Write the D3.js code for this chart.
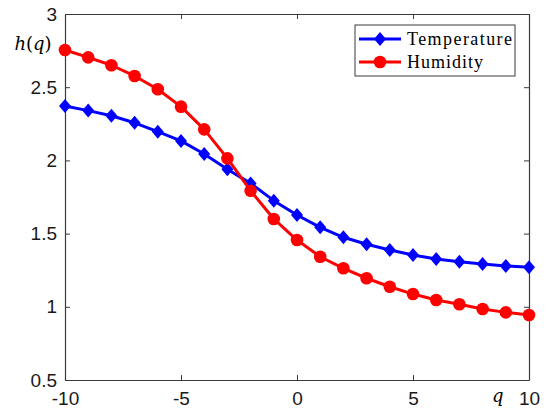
<!DOCTYPE html>
<html>
<head>
<meta charset="utf-8">
<script src="https://cdn.jsdelivr.net/npm/d3@7"></script>
<style>
  body { margin: 0; background: #fff; }
  .tick text { font-family: "Liberation Sans", Arial, sans-serif; font-size: 19px; fill: #1a1a1a; }
  .leg { font-family: "Liberation Serif", "DejaVu Serif", serif; font-size: 18px; fill: #000; }
  .lab { font-family: "DejaVu Serif", serif; font-size: 18px; fill: #000; }
</style>
</head>
<body>
<div id="chart"></div>
<script>
// q values and the two series
var q = [-10,-9,-8,-7,-6,-5,-4,-3,-2,-1,0,1,2,3,4,5,6,7,8,9,10];
var temperature = [2.372,2.340,2.305,2.257,2.196,2.133,2.044,1.940,1.843,1.725,1.627,1.543,1.475,1.427,1.388,1.354,1.326,1.308,1.292,1.279,1.270];
var humidity = [2.754,2.704,2.650,2.577,2.486,2.367,2.212,2.014,1.793,1.600,1.456,1.342,1.263,1.195,1.137,1.087,1.046,1.017,0.985,0.962,0.944];
var xTicks = [-10,-5,0,5,10];
var yTicks = [0.5,1,1.5,2,2.5,3];
var seriesNames = ["Temperature","Humidity"];

var W = 553, H = 415;
var margin = { top: 14, right: 24, bottom: 35, left: 65 };
var width = W - margin.left - margin.right;
var height = H - margin.top - margin.bottom;

var svg = d3.select("#chart").append("svg")
  .attr("width", W)
  .attr("height", H)
  .append("g")
  .attr("transform", `translate(${margin.left},${margin.top})`);

var x = d3.scaleLinear().domain([-10, 10]).range([0, width]);
var y = d3.scaleLinear().domain([0.5, 3]).range([height, 0]);

var axisCol = "#3a3a3a";

// axes, ticks pointing inward on all four sides
var xb = svg.append("g").attr("transform", `translate(0,${height})`)
  .call(d3.axisBottom(x).tickValues(xTicks).tickSizeInner(-5).tickSizeOuter(0).tickPadding(12).tickFormat(d => String(d)));
var xt = svg.append("g")
  .call(d3.axisTop(x).tickValues(xTicks).tickSizeInner(-5).tickSizeOuter(0).tickFormat(""));
var yl = svg.append("g")
  .call(d3.axisLeft(y).tickValues(yTicks).tickSizeInner(-5).tickSizeOuter(0).tickPadding(8).tickFormat(d => String(d)));
var yr = svg.append("g").attr("transform", `translate(${width},0)`)
  .call(d3.axisRight(y).tickValues(yTicks).tickSizeInner(-5).tickSizeOuter(0).tickFormat(""));

[xb, xt, yl, yr].forEach(g => {
  g.select(".domain").attr("stroke", axisCol).attr("stroke-width", 1.2);
  g.selectAll(".tick line").attr("stroke", axisCol).attr("stroke-width", 1);
});
xb.selectAll(".tick text").attr("dy", "0.68em");
svg.selectAll(".tick text").style("font-family", '"Liberation Sans", Arial, sans-serif').style("font-size", "19px");

// axis labels: italic letters, upright brackets
var hl = svg.append("text")
  .attr("x", -32).attr("y", 36)
  .attr("text-anchor", "middle")
  .attr("class", "lab");
hl.append("tspan").style("font-style", "italic").text("h");
hl.append("tspan").text("(");
hl.append("tspan").style("font-style", "italic").text("q");
hl.append("tspan").text(")");

svg.append("text")
  .attr("x", x(8.65)).attr("y", height + 22)
  .attr("text-anchor", "middle")
  .attr("class", "lab")
  .style("font-style", "italic")
  .text("q");

var diamond = "M0,-7L6,0L0,7L-6,0Z";

var line = d3.line().x((d, i) => x(q[i])).y(d => y(d));

function drawSeries(vals, col, marker) {
  svg.append("path")
    .datum(vals)
    .attr("fill", "none")
    .attr("stroke", col)
    .attr("stroke-width", 3)
    .attr("stroke-linejoin", "round")
    .attr("d", line);
  if (marker === "diamond") {
    svg.selectAll(null).data(vals).enter().append("path")
      .attr("d", diamond)
      .attr("transform", (d, i) => `translate(${x(q[i])},${y(d)})`)
      .attr("fill", col);
  } else {
    svg.selectAll(null).data(vals).enter().append("circle")
      .attr("cx", (d, i) => x(q[i]))
      .attr("cy", d => y(d))
      .attr("r", 6.3)
      .attr("fill", col);
  }
}
drawSeries(temperature, "#0000ff", "diamond");
drawSeries(humidity, "#ff0000", "circle");

// legend
var lg = svg.append("g").attr("transform", `translate(${355 - margin.left},${25 - margin.top})`);
lg.append("rect")
  .attr("width", 160).attr("height", 51)
  .attr("fill", "#fff")
  .attr("stroke", axisCol)
  .attr("stroke-width", 1);
var legItems = [
  { name: seriesNames[0], col: "#0000ff", marker: "diamond", yy: 14 },
  { name: seriesNames[1], col: "#ff0000", marker: "circle", yy: 37 }
];
legItems.forEach(it => {
  lg.append("line")
    .attr("x1", 4).attr("x2", 46)
    .attr("y1", it.yy).attr("y2", it.yy)
    .attr("stroke", it.col).attr("stroke-width", 3);
  if (it.marker === "diamond") {
    lg.append("path").attr("d", diamond).attr("transform", `translate(25,${it.yy})`).attr("fill", it.col);
  } else {
    lg.append("circle").attr("cx", 25).attr("cy", it.yy).attr("r", 6.3).attr("fill", it.col);
  }
  lg.append("text")
    .attr("class", "leg")
    .attr("x", 52).attr("y", it.yy + 6)
    .attr("textLength", it.name === "Temperature" ? 105 : 76)
    .text(it.name);
});
</script>
</body>
</html>
